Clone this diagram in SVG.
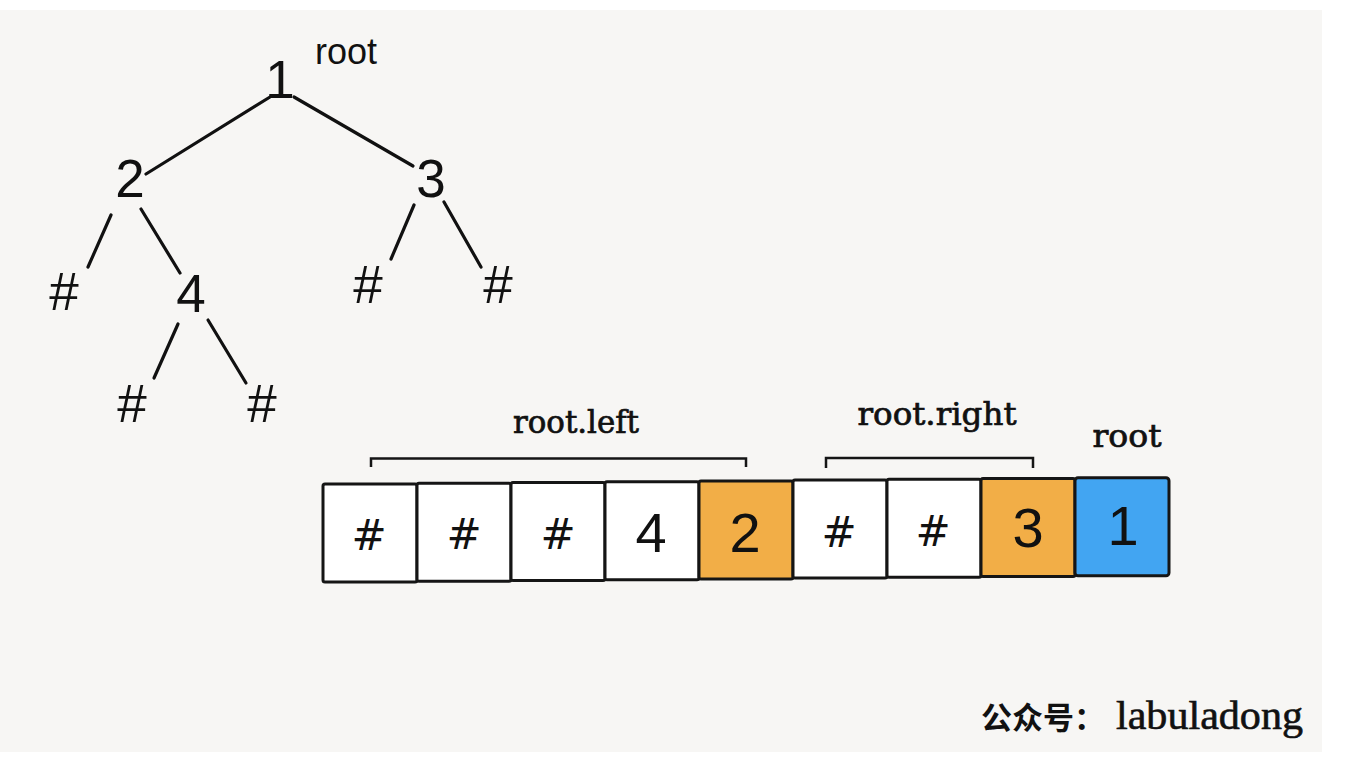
<svg xmlns="http://www.w3.org/2000/svg" width="1352" height="760" viewBox="0 0 1352 760">
<style>
.t{font-family:"Liberation Sans",Arial,sans-serif;fill:#111;text-anchor:middle}
.tree{font-size:53px}
.cell{fill:#fff;stroke:#151515;stroke-width:3}
.or{fill:#F2AE47}
.bl{fill:#42A5F2}
.d{font-family:"Liberation Sans",Arial,sans-serif;font-size:56px;fill:#111;text-anchor:middle}
.h{font-family:"DejaVu Sans",sans-serif;font-size:42px;fill:#111;text-anchor:middle}
.lab{font-family:"DejaVu Serif",serif;font-size:31px;fill:#111;stroke:#111;stroke-width:0.7;text-anchor:middle}
.br{fill:none;stroke:#151515;stroke-width:2.5}
.e{stroke:#111;stroke-width:3.2;stroke-linecap:round;fill:none}
</style>
<rect x="0" y="0" width="1352" height="760" fill="#ffffff"/>
<rect x="0" y="10" width="1322" height="742" fill="#F7F6F4"/>
<g id="connectors">
<line class="e" x1="270" y1="97" x2="146" y2="174"/>
<line class="e" x1="294" y1="97" x2="413" y2="166"/>
<line class="e" x1="111" y1="215" x2="88" y2="267"/>
<line class="e" x1="141" y1="209" x2="180" y2="273"/>
<line class="e" x1="178" y1="324" x2="154" y2="378"/>
<line class="e" x1="208" y1="320" x2="246" y2="383"/>
<line class="e" x1="414" y1="205" x2="391" y2="259"/>
<line class="e" x1="444" y1="202" x2="481" y2="267"/>
</g>
<g id="root-label"><text class="t" x="346" y="64" font-size="36">root</text></g>
<g id="n1"><text class="t tree" x="280" y="98">1</text></g>
<g id="n2"><text class="t tree" x="130" y="197">2</text></g>
<g id="n3"><text class="t tree" x="431" y="197">3</text></g>
<g id="n2l"><text class="t tree" x="64" y="310">#</text></g>
<g id="n4"><text class="t tree" x="191" y="312">4</text></g>
<g id="n4l"><text class="t tree" x="132" y="422">#</text></g>
<g id="n4r"><text class="t tree" x="262" y="422">#</text></g>
<g id="n3l"><text class="t tree" x="368" y="303">#</text></g>
<g id="n3r"><text class="t tree" x="498" y="303">#</text></g>

<g id="array">
<g id="c0"><rect class="cell" x="323" y="484" width="94" height="98" rx="2"/><text class="h" x="369" y="550">#</text></g>
<g id="c1"><rect class="cell" x="417" y="483.2" width="94" height="98" rx="2"/><text class="h" x="464" y="549">#</text></g>
<g id="c2"><rect class="cell" x="511" y="482.4" width="94" height="98" rx="2"/><text class="h" x="558" y="549">#</text></g>
<g id="c3"><rect class="cell" x="605" y="481.7" width="94" height="98" rx="2"/><text class="d" x="651" y="552">4</text></g>
<g id="c4"><rect class="cell or" x="699" y="480.9" width="94" height="98" rx="2"/><text class="d" x="745" y="552">2</text></g>
<g id="c5"><rect class="cell" x="793" y="480.1" width="94" height="98" rx="2"/><text class="h" x="839" y="547">#</text></g>
<g id="c6"><rect class="cell" x="887" y="479.3" width="94" height="98" rx="2"/><text class="h" x="933" y="546">#</text></g>
<g id="c7"><rect class="cell or" x="981" y="478.5" width="94" height="98" rx="2"/><text class="d" x="1028" y="547">3</text></g>
<g id="c8"><rect class="cell bl" x="1075" y="477.7" width="94" height="98" rx="3"/><text class="d" x="1123" y="545">1</text></g>
</g>

<g id="bracket-left">
<path class="br" d="M371 467 V458.5 H746 V467"/>
<text class="lab" x="576" y="433" textLength="126" lengthAdjust="spacingAndGlyphs">root.left</text>
</g>
<g id="bracket-right">
<path class="br" d="M826 468 V458 H1033 V468"/>
<text class="lab" x="937" y="425" textLength="159" lengthAdjust="spacingAndGlyphs">root.right</text>
</g>
<g id="root-array-label">
<text class="lab" x="1127" y="447" textLength="69" lengthAdjust="spacingAndGlyphs">root</text>
</g>

<g id="watermark">
<text x="981" y="729" font-family="'Noto Sans CJK SC',sans-serif" font-weight="bold" font-size="31" fill="#111">公众号：</text>
<text x="1116" y="729" font-family="'Liberation Serif','Times New Roman',serif" font-size="39" fill="#111" stroke="#111" stroke-width="0.6" textLength="187" lengthAdjust="spacingAndGlyphs">labuladong</text>
</g>
</svg>
